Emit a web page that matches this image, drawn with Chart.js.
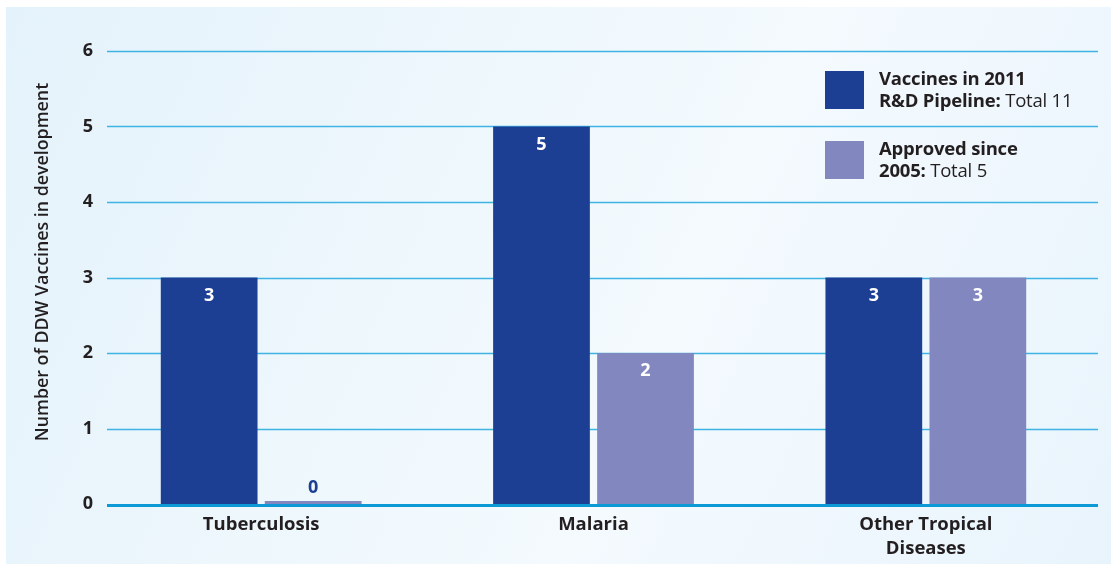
<!DOCTYPE html>
<html>
<head>
<meta charset="utf-8">
<script src="https://cdn.jsdelivr.net/npm/chart.js@4/dist/chart.umd.min.js"></script>
<style>
    html, body { margin: 0; padding: 0; background: #ffffff; }
    #wrap { position: relative; width: 1117px; height: 569px; overflow: hidden; font-family: "Open Sans", sans-serif; }
    #panel {
        position: absolute; left: 6px; top: 7px; width: 1105px; height: 557px;
        background: linear-gradient(115deg, #e4f2fb 0%, #edf7fc 35%, #f4fafe 60%, #e8f4fc 100%);
    }
    #chart { position: absolute; left: 0; top: 0; }
    .legend-item { position: absolute; left: 825px; color: #231f20; font-size: 18.5px; line-height: 22px; letter-spacing: -0.2px; }
    .legend-item .sw { position: absolute; left: 0; top: 0; width: 39px; height: 38px; }
    .legend-item .txt { position: absolute; left: 54px; top: -4px; white-space: nowrap; }
    .legend-item b { font-weight: 700; }
</style>
</head>
<body>
<div id="wrap">
    <div id="panel"></div>
    <canvas id="chart" width="1117" height="569"></canvas>
    <div class="legend-item" style="top: 71px;">
        <div class="sw" style="background: #1c3f94;"></div>
        <div class="txt"><b>Vaccines in 2011</b><br><b>R&amp;D Pipeline:</b> Total 11</div>
    </div>
    <div class="legend-item" style="top: 141px;">
        <div class="sw" style="background: #8287c0;"></div>
        <div class="txt"><b>Approved since</b><br><b>2005:</b> Total 5</div>
    </div>
</div>
<script>
// Data
const categories = ['Tuberculosis', 'Malaria', ['Other Tropical', 'Diseases']];
const pipeline2011 = [3, 5, 3];
const approvedSince2005 = [0, 2, 3];
const yTicks = [0, 1, 2, 3, 4, 5, 6];
const yTitle = 'Number of DDW Vaccines in development';

const darkBlue = '#1c3f94';
const lightPurple = '#8287c0';
const textColor = '#231f20';

// horizontal grid lines drawn from the y scale, wider than the category area
const gridPlugin = {
    id: 'gridLines',
    beforeDatasetsDraw(chart) {
        const ctx = chart.ctx;
        const y = chart.scales.y;
        ctx.save();
        ctx.strokeStyle = '#3fb3e4';
        ctx.lineWidth = 1.5;
        yTicks.forEach(v => {
            if (v === 0) return;
            const py = Math.round(y.getPixelForValue(v)) + 0.5;
            ctx.beginPath();
            ctx.moveTo(107, py);
            ctx.lineTo(1098, py);
            ctx.stroke();
        });
        ctx.restore();

        // axis title, sits a little above the middle of the plot
        ctx.save();
        ctx.translate(43, 262);
        ctx.rotate(-Math.PI / 2);
        ctx.font = '600 17.8px "Open Sans"';
        ctx.fillStyle = textColor;
        ctx.textAlign = 'center';
        ctx.textBaseline = 'middle';
        ctx.fillText(yTitle, 0, 0);
        ctx.restore();
    },
    afterDatasetsDraw(chart) {
        const ctx = chart.ctx;
        const y = chart.scales.y;
        const py = y.getPixelForValue(0) + 1.5;
        ctx.save();
        ctx.strokeStyle = '#0c9ad6';
        ctx.lineWidth = 3;
        ctx.beginPath();
        ctx.moveTo(107, py);
        ctx.lineTo(1098, py);
        ctx.stroke();
        ctx.restore();
    }
};

// value labels on the bars
const valueLabels = {
    id: 'valueLabels',
    afterDatasetsDraw(chart) {
        const ctx = chart.ctx;
        ctx.save();
        ctx.font = '700 18px "Open Sans"';
        ctx.textAlign = 'center';
        ctx.textBaseline = 'middle';
        chart.data.datasets.forEach((ds, i) => {
            chart.getDatasetMeta(i).data.forEach((bar, j) => {
                const v = ds.data[j];
                if (v > 0) {
                    ctx.fillStyle = '#ffffff';
                    ctx.fillText(v, bar.x, bar.y + 18);
                } else {
                    ctx.fillStyle = darkBlue;
                    ctx.fillText(v, bar.x, bar.y - 13);
                }
            });
        });
        ctx.restore();
    }
};

const ctx = document.getElementById('chart').getContext('2d');
new Chart(ctx, {
    type: 'bar',
    data: {
        labels: categories,
        datasets: [{
            label: 'Vaccines in 2011 R&D Pipeline',
            data: pipeline2011,
            backgroundColor: darkBlue,
            barPercentage: 0.93,
            categoryPercentage: 0.626
        }, {
            label: 'Approved since 2005',
            data: approvedSince2005,
            backgroundColor: lightPurple,
            minBarLength: 3,
            barPercentage: 0.93,
            categoryPercentage: 0.626
        }]
    },
    options: {
        responsive: false,
        animation: false,
        layout: {
            padding: { top: 51, right: 25, bottom: 0, left: 0 }
        },
        plugins: {
            legend: { display: false },
            tooltip: { enabled: false }
        },
        scales: {
            x: {
                grid: { display: false, drawTicks: false },
                border: { display: false },
                ticks: {
                    color: textColor,
                    padding: 9,
                    font: { family: 'Open Sans', size: 18.5, weight: '700', lineHeight: 1.3 },
                    maxRotation: 0
                },
                afterFit(scale) { scale.height = 65; }
            },
            y: {
                min: 0,
                max: 6,
                grid: { display: false, drawTicks: false },
                border: { display: false },
                ticks: {
                    stepSize: 1,
                    color: textColor,
                    padding: 2,
                    font: { family: 'Open Sans', size: 18, weight: '700' }
                },
                afterFit(scale) { scale.width = 95; }
            }
        }
    },
    plugins: [gridPlugin, valueLabels]
});
</script>
</body>
</html>
